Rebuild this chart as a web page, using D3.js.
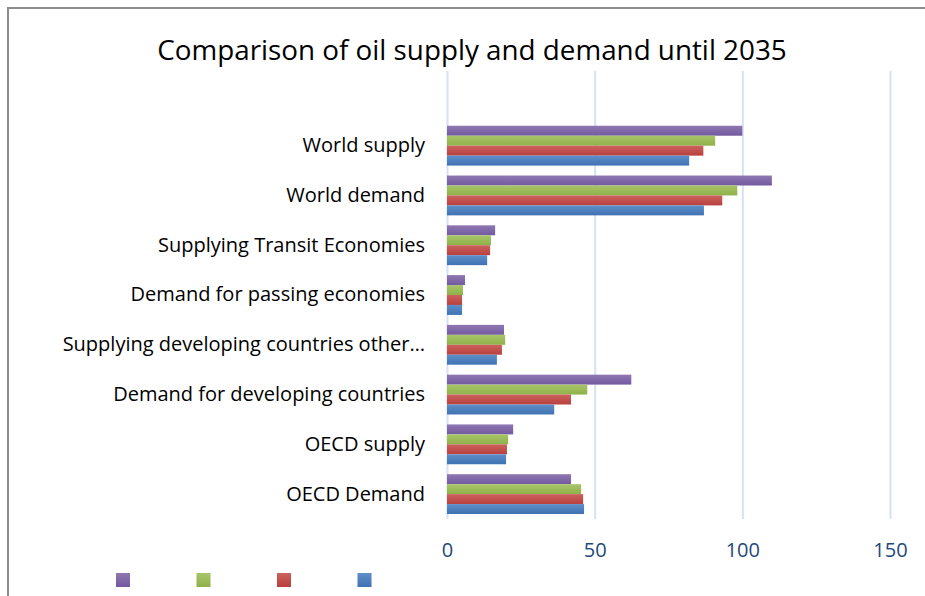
<!DOCTYPE html>
<html>
<head>
<meta charset="utf-8">
<style>
    body { margin: 0; background: #fff; }
    svg { display: block; font-family: 'Open Sans', 'Noto Sans', sans-serif; }
    .x .domain, .y .domain { display: none; }
    .x .tick line { stroke: #d5e2f4; stroke-width: 2; }
    .x .tick text { font-size: 20px; fill: #1f497d; }
    .y .tick line { display: none; }
    .y .tick text { font-size: 20px; fill: #000; }
</style>
</head>
<body>
<svg width="925" height="596"></svg>

<script src="https://d3js.org/d3.v7.min.js"></script>
<script>
    // categories top to bottom as shown
    const categories = [
        "World supply",
        "World demand",
        "Supplying Transit Economies",
        "Demand for passing economies",
        "Supplying developing countries other\u2026",
        "Demand for developing countries",
        "OECD supply",
        "OECD Demand"
    ]

    // four unnamed series (legend has no labels), top bar to bottom bar
    const purpleVals = [100, 110, 16.3, 6.1, 19.3, 62.4, 22.4, 42]
    const greenVals  = [90.8, 98.3, 14.9, 5.4, 19.7, 47.5, 20.7, 45.4]
    const redVals    = [86.8, 93.2, 14.6, 5.1, 18.6, 42, 20.3, 46.1]
    const blueVals   = [82, 87, 13.6, 5.1, 16.9, 36.3, 20, 46.4]

    const xTicks = [0, 50, 100, 150]

    const series = [
        { key: "s4", values: purpleVals, light: "#8f78b1", dark: "#7359a0" },
        { key: "s3", values: greenVals,  light: "#a8c56a", dark: "#8fb148" },
        { key: "s2", values: redVals,    light: "#cc625f", dark: "#b8403d" },
        { key: "s1", values: blueVals,   light: "#5f8fc9", dark: "#3f72b3" }
    ]

    let svg = d3.select("svg")

    // outer chart frame (cut off on the right and bottom)
    svg.append("rect")
        .attr("x", 8).attr("y", 8)
        .attr("width", 940).attr("height", 620)
        .style("fill", "none")
        .style("stroke", "#8c8c8c")
        .style("stroke-width", 2)

    // gradients for the bars
    let defs = svg.append("defs")
    series.forEach(function (s) {
        let g = defs.append("linearGradient")
            .attr("id", "grad-" + s.key)
            .attr("x1", 0).attr("y1", 0).attr("x2", 0).attr("y2", 1)
        g.append("stop").attr("offset", "0%").attr("stop-color", s.light)
        g.append("stop").attr("offset", "100%").attr("stop-color", s.dark)
    })

    let plotTop = 71
    let plotBottom = 519

    let x = d3.scaleLinear()
        .domain([0, 150])
        .range([447, 890])

    // the plot keeps one empty slot at the top, like the original
    let bandStep = (plotBottom - plotTop) / (categories.length + 1)
    let y = d3.scaleBand()
        .domain(categories)
        .range([plotTop + bandStep, plotBottom])
        .paddingInner(0.2)
        .paddingOuter(0.1)

    let ySub = d3.scaleBand()
        .domain(series.map(function (s) { return s.key }))
        .range([0, y.bandwidth()])

    let xAxisSettings = d3.axisBottom(x)
        .tickValues(xTicks)
        .tickSize(-(plotBottom - plotTop))
        .tickPadding(24)

    svg.append("g")
        .attr("class", "x axis")
        .attr("transform", `translate(0,${plotBottom})`)
        .call(xAxisSettings)
        .attr("font-family", null)

    let yAxisSettings = d3.axisLeft(y)
        .tickSize(0)
        .tickPadding(22)

    svg.append("g")
        .attr("class", "y axis")
        .attr("transform", `translate(${x(0)},0)`)
        .call(yAxisSettings)
        .attr("font-family", null)

    // bars
    let groups = svg.append("g")
        .selectAll(".series")
        .data(series)
        .join("g")
        .attr("class", "series")

    groups.selectAll("rect")
        .data(function (s) {
            return s.values.map(function (v, i) { return { key: s.key, cat: categories[i], value: v } })
        })
        .join("rect")
        .attr("x", x(0))
        .attr("y", function (d) { return y(d.cat) + ySub(d.key) })
        .attr("width", function (d) { return x(d.value) - x(0) })
        .attr("height", ySub.bandwidth())
        .style("fill", function (d) { return "url(#grad-" + d.key + ")" })

    // title
    svg.append("text")
        .attr("x", 472)
        .attr("y", 60)
        .attr("text-anchor", "middle")
        .style("font-size", "27.8px")
        .style("fill", "#000")
        .text("Comparison of oil supply and demand until 2035")

    // legend (markers only, no names)
    svg.append("g")
        .selectAll(".legend")
        .data(series)
        .join("rect")
        .attr("class", "legend")
        .attr("x", function (d, i) { return 116 + i * 80.5 })
        .attr("y", 573)
        .attr("width", 14)
        .attr("height", 14)
        .style("fill", function (d) { return "url(#grad-" + d.key + ")" })
</script>
</body>
</html>
